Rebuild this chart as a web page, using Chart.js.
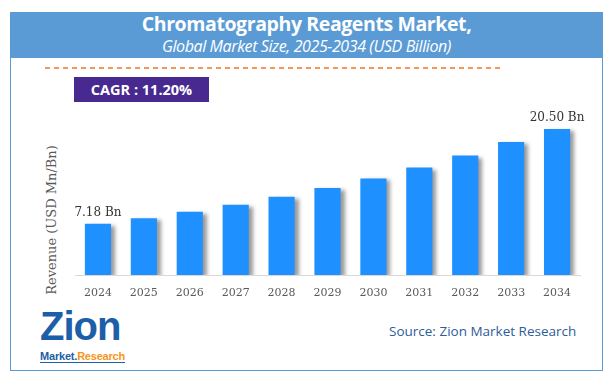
<!DOCTYPE html>
<html>
<head>
<meta charset="utf-8">
<script src="https://cdn.jsdelivr.net/npm/chart.js@4.4.1/dist/chart.umd.min.js"></script>
<style>
  body { margin: 0; background: #fff; width: 615px; height: 386px; overflow: hidden; position: relative; font-family: "Open Sans", "Noto Sans", sans-serif; }
  .frame { position: absolute; left: 10px; top: 12px; width: 591px; height: 357px; border: 1px solid #5b9bd5; }
  .header { position: absolute; left: 10px; top: 12px; width: 593px; height: 46px; background: #5b9bd5; color: #fff; text-align: center; }
  .header .t1 { font-family: "Open Sans", sans-serif; font-weight: bold; font-size: 19.5px; line-height: 24px; margin-top: 0px; letter-spacing: -0.4px; }
  .header .t2 { font-family: "Open Sans", sans-serif; font-style: italic; font-size: 16px; line-height: 20px; letter-spacing: -0.4px; }
  .dash { position: absolute; left: 45px; top: 67px; width: 455px; height: 2px;
          background: repeating-linear-gradient(to right, #f07c30 0 5px, transparent 5px 9px); opacity: 0.8; }
  .cagr { position: absolute; left: 74px; top: 77px; width: 135px; height: 25px; background: #48298f; color: #fff; font-weight: bold; font-size: 14.5px; line-height: 25px; text-align: center; }
  .source { position: absolute; left: 389px; top: 322px; color: #2e5d9a; font-size: 13.5px; }
  .logo { position: absolute; left: 40px; top: 309px; width: 90px; }
  .logo .z { font-family: "Liberation Sans", sans-serif; font-weight: bold; font-size: 40px; color: #1d5ea8; line-height: 34px; letter-spacing: -1px; }
  .logo .m { font-family: "Liberation Sans", sans-serif; font-weight: bold; font-size: 11px; line-height: 12px; margin-top: 0px; border-bottom: 1px solid #1d5ea8; display: inline-block; letter-spacing: -0.2px; }
  .ytitle { position: absolute; left: 51px; top: 220px; transform: translate(-50%, -50%) rotate(-90deg); font-family: "DejaVu Serif", serif; font-size: 13px; color: #595959; white-space: nowrap; }
  canvas { position: absolute; left: 0; top: 0; }
</style>
</head>
<body>
<div class="frame"></div>
<div class="header">
  <div class="t1">Chromatography Reagents Market,</div>
  <div class="t2">Global Market Size, 2025-2034 (USD Billion)</div>
</div>
<div class="dash"></div>
<div class="cagr">CAGR : 11.20%</div>
<div class="ytitle">Revenue (USD Mn/Bn)</div>
<div class="logo">
  <div class="z">Zion</div>
  <div class="m"><span style="color:#1d5ea8">Market.</span><span style="color:#f7941d">Research</span></div>
</div>
<div class="source">Source: Zion Market Research</div>
<canvas id="chart" width="615" height="386"></canvas>
<script>
const years = ['2024', '2025', '2026', '2027', '2028', '2029', '2030', '2031', '2032', '2033', '2034'];
const revenue = [7.18, 7.98, 8.87, 9.86, 10.97, 12.2, 13.56, 15.08, 16.77, 18.65, 20.50];
const valueLabels = ['7.18 Bn', '', '', '', '', '', '', '', '', '', '20.50 Bn'];

// shadow behind the bars + the two value labels
const barShadow = {
  id: 'barShadow',
  beforeDatasetsDraw(chart) {
    const ctx = chart.ctx;
    ctx.save();
    ctx.shadowColor = 'rgba(0,0,0,0.4)';
    ctx.shadowOffsetX = 4;
    ctx.shadowOffsetY = 2;
    ctx.shadowBlur = 4;
  },
  afterDatasetsDraw(chart) {
    chart.ctx.restore();
    const ctx = chart.ctx;
    const meta = chart.getDatasetMeta(0);
    ctx.save();
    ctx.font = '12px "DejaVu Serif", serif';
    ctx.fillStyle = '#333';
    ctx.textAlign = 'center';
    ctx.textBaseline = 'bottom';
    meta.data.forEach((bar, i) => {
      if (valueLabels[i]) ctx.fillText(valueLabels[i], bar.x, bar.y - 5);
    });
    ctx.restore();
  }
};

new Chart(document.getElementById('chart'), {
  type: 'bar',
  data: {
    labels: years,
    datasets: [{
      data: revenue,
      backgroundColor: '#1e90ff',
      barPercentage: 0.57,
      categoryPercentage: 1
    }]
  },
  options: {
    responsive: false,
    animation: false,
    layout: { padding: { left: 75, right: 35, top: 104, bottom: 0 } },
    plugins: { legend: { display: false }, tooltip: { enabled: false } },
    scales: {
      x: {
        afterFit(scale) { scale.height = 111; },
        grid: { display: false },
        border: { display: true, color: '#d9d9d9', width: 1 },
        ticks: { color: '#595959', font: { family: '"DejaVu Serif", serif', size: 11 }, padding: 4 }
      },
      y: { display: false, min: 0, max: 24 }
    }
  },
  plugins: [barShadow]
});
</script>
</body>
</html>
